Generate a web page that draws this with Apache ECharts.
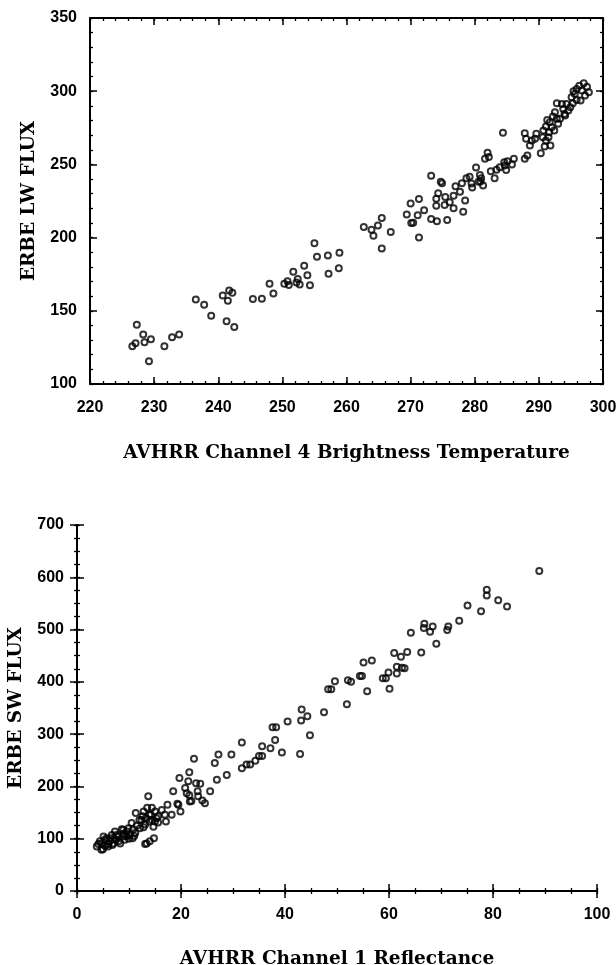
<!DOCTYPE html>
<html>
<head>
<meta charset="utf-8">
<script src="https://cdn.jsdelivr.net/npm/echarts@6/dist/echarts.min.js"></script>
<style>
  html, body { margin: 0; padding: 0; background: #fff; }
  #main { width: 616px; height: 965px; }
</style>
</head>
<body>
<div id="main"></div>
<script>
// top panel: AVHRR ch4 brightness temperature vs ERBE LW flux
var lwTemp = [
  227.3, 226.6, 227.1, 228.3, 228.5, 229.5, 229.2, 231.6, 232.8, 233.9,
  236.5, 237.8, 238.9, 240.7, 241.5, 241.7, 242.2, 241.3, 242.5, 245.4,
  246.8, 248.0, 248.6, 250.3, 250.8, 251.0, 251.7, 252.4, 252.2, 252.7,
  253.4, 253.9, 254.3, 255.0, 255.4, 257.1, 257.2, 258.8, 258.9,
  262.7, 263.9, 264.2, 264.9, 265.5, 265.5, 266.9, 269.4, 270.0, 270.1,
  270.4, 271.1, 271.3, 271.3, 272.1, 273.2, 273.2, 274.1, 274.7, 274.9,
  274.0, 274.3, 274.0, 275.3, 275.4, 275.7, 276.1, 276.7, 276.7, 277.0,
  277.7, 278.0, 278.2, 278.5, 278.7, 279.2, 279.5, 279.6, 280.2, 280.6,
  280.8, 281.0, 281.3, 280.9, 281.6, 282.0, 282.2, 282.5, 283.1, 283.4,
  283.9, 284.4, 284.6, 284.7, 284.9, 285.1,
  297.0, 297.5, 297.8, 297.2, 296.7, 296.3, 295.9, 295.6, 295.4, 296.5,
  295.9, 295.1, 295.3, 294.9, 294.3, 294.6, 293.8, 294.1, 293.6, 294.0,
  293.3, 292.8, 292.5, 293.0, 292.8, 292.2, 291.7, 291.3, 291.1, 292.0,
  292.4, 291.6, 290.7, 290.6, 291.1, 291.5, 291.8, 290.9, 290.3, 289.6,
  289.4, 288.9, 288.6, 288.0, 287.8, 288.2, 287.8, 286.1, 285.8
];
var lwFlux = [
  140.4, 125.8, 127.9, 133.8, 128.5, 130.6, 115.5, 125.8, 132.0, 133.8,
  157.8, 154.1, 146.6, 160.5, 156.8, 163.9, 162.3, 142.9, 139.0, 158.0,
  158.2, 168.5, 161.9, 168.5, 170.1, 167.6, 176.7, 171.7, 169.4, 168.0,
  180.8, 174.2, 167.4, 196.1, 187.0, 187.7, 175.3, 179.0, 189.7,
  207.2, 205.3, 201.2, 208.3, 213.4, 192.6, 203.9, 215.7, 223.3, 209.9,
  210.2, 215.2, 226.3, 200.0, 218.7, 242.3, 212.7, 211.1, 238.1, 237.2,
  221.7, 230.3, 226.6, 222.2, 227.7, 212.0, 224.2, 220.1, 228.6, 235.1,
  231.4, 237.2, 217.6, 225.4, 240.6, 241.6, 237.0, 234.2, 247.8, 238.1,
  242.7, 240.6, 235.6, 238.3, 253.8, 258.0, 255.0, 245.3, 240.6, 246.4,
  248.0, 271.6, 251.5, 249.2, 246.2, 252.2,
  305.4, 303.1, 299.3, 297.0, 300.4, 303.8, 301.5, 298.1, 300.0, 293.6,
  294.0, 295.9, 291.8, 289.0, 291.3, 286.8, 287.9, 283.4, 291.3, 284.5,
  281.1, 291.8, 285.6, 277.7, 281.1, 282.7, 278.8, 280.4, 275.9, 275.4,
  273.1, 272.0, 273.1, 268.6, 266.3, 268.6, 262.9, 262.2, 257.7, 270.9,
  267.5, 266.3, 262.9, 267.5, 271.3, 256.1, 253.8, 253.8, 250.0
];

// bottom panel: AVHRR ch1 reflectance vs ERBE SW flux
var swRefl = [
  3.8, 4.4, 4.7, 5.4, 5.7, 5.1, 6.3, 6.7, 7.3, 7.5,
  7.9, 8.3, 8.6, 8.9, 9.2, 9.6, 9.9, 10.2, 10.7, 10.5,
  11.2, 11.5, 11.3, 12.1, 12.4, 12.8, 13.1, 13.3, 13.5, 13.7,
  13.9, 14.2, 14.4, 14.7, 15.0, 15.3, 15.6, 16.3, 16.9, 17.1,
  17.4, 18.2, 18.5, 19.7, 19.5, 19.9, 20.8, 21.1, 21.6, 21.4,
  21.7, 22.5, 22.9, 23.3, 23.7, 24.6, 25.6, 26.5, 27.2, 28.8,
  29.7, 31.7, 31.7, 32.6,
  13.1, 13.4, 14.0, 14.8,
  4.1, 6.0, 7.0, 7.6, 8.9, 6.5, 5.4, 4.7, 12.0, 12.6,
  13.9, 14.4, 15.6, 15.0, 12.8,
  19.3, 21.6, 22.0, 23.2, 24.1, 26.9,
  5.0, 6.0, 7.2, 8.0, 9.5, 10.0, 11.0, 6.8, 9.0, 10.8,
  33.3, 34.3, 35.0, 35.6, 35.6, 37.2, 37.6, 38.3, 38.1, 39.4, 40.5,
  88.9, 78.8, 78.8, 81.0, 82.7, 77.7, 75.1, 73.5, 71.4, 71.2,
  69.1, 68.4, 67.9, 66.8, 66.7, 66.2, 64.2, 63.5, 63.0, 62.5,
  62.3, 61.5, 61.5, 61.0, 59.9, 60.1, 59.4, 58.8, 56.7, 55.1,
  55.8, 54.8, 54.4, 52.7, 52.1, 51.9, 49.6, 48.9, 48.3, 47.5,
  44.8, 44.3, 43.2, 43.1, 42.9
];
var swFlux = [
  85, 95, 79, 86, 101, 104, 95, 107, 114, 98,
  104, 91, 118, 104, 98, 114, 120, 107, 101, 130,
  111, 125, 149, 120, 136, 152, 127, 139, 159, 181,
  133, 146, 159, 123, 152, 139, 131, 155, 146, 133,
  165, 146, 191, 216, 165, 152, 197, 187, 227, 210,
  171, 253, 206, 181, 205, 168, 191, 245, 261, 222,
  261, 284, 235, 242,
  90, 91, 95, 101,
  90, 85, 91, 107, 117, 101, 98, 91, 136, 143,
  146, 136, 143, 133, 122,
  167, 183, 172, 191, 173, 213,
  80, 90, 100, 95, 105, 100, 105, 88, 110, 118,
  242, 249, 258, 258, 277, 273, 313, 313, 289, 265, 324,
  612, 576, 565, 556, 544, 535, 546, 517, 506, 499,
  473, 506, 496, 511, 503, 456, 494, 457, 426, 427,
  448, 429, 416, 455, 418, 387, 407, 407, 441, 437,
  382, 411, 411, 400, 403, 357, 401, 386, 386, 342,
  298, 334, 347, 326, 262
];

// axis ranges, major step and minor step
var lwX = [220, 300, 10, 2];
var lwY = [100, 350, 50, 10];
var swX = [0, 100, 20, 5];
var swY = [0, 700, 100, 25];

function pairs(xs, ys) {
  var out = [];
  for (var i = 0; i < xs.length; i++) out.push([xs[i], ys[i]]);
  return out;
}

var labelFont = { fontFamily: 'Liberation Sans', fontWeight: 'bold', fontSize: 16, color: '#000' };
var titleFont = { fontFamily: 'DejaVu Serif', fontWeight: 'bold', fontSize: 18.5, color: '#000' };

// major axis: line, long inside ticks, optional labels/name
function major(grid, pos, r, opts) {
  opts = opts || {};
  var a = {
    type: 'value', gridIndex: grid, position: pos,
    min: r[0], max: r[1], interval: r[2],
    axisLine: { show: true, lineStyle: { color: '#000', width: 2 } },
    axisTick: { show: true, inside: true, length: 7, lineStyle: { color: '#000', width: 1.5 } },
    splitLine: { show: false },
    axisLabel: Object.assign({ show: !!opts.labels, margin: opts.margin || 12 }, labelFont)
  };
  if (opts.name) {
    a.name = opts.name;
    a.nameLocation = 'middle';
    a.nameGap = opts.nameGap;
    a.nameRotate = opts.nameRotate || 0;
    a.nameTextStyle = titleFont;
  }
  return a;
}

// minor axis: only short inside ticks
function minor(grid, pos, r) {
  return {
    type: 'value', gridIndex: grid, position: pos,
    min: r[0], max: r[1], interval: r[3],
    axisLine: { show: false },
    axisTick: { show: true, inside: true, length: 3, lineStyle: { color: '#000', width: 1.3 } },
    splitLine: { show: false },
    axisLabel: { show: false }
  };
}

var myChart = echarts.init(document.getElementById('main'), null, { renderer: 'canvas' });

var option = {
  backgroundColor: '#fff',
  animation: false,
  grid: [
    { left: 90, top: 18, width: 513, height: 366, outerBoundsMode: 'none' },
    { left: 77, top: 525, width: 520, height: 366, outerBoundsMode: 'none' }
  ],
  xAxis: [
    major(0, 'bottom', lwX, { labels: true, margin: 16, name: 'AVHRR Channel 4 Brightness Temperature', nameGap: 60 }),
    major(0, 'top', lwX),
    minor(0, 'bottom', lwX),
    minor(0, 'top', lwX),
    major(1, 'bottom', swX, { labels: true, margin: 16, name: 'AVHRR Channel 1 Reflectance', nameGap: 59 }),
    major(1, 'top', swX),
    minor(1, 'bottom', swX),
    minor(1, 'top', swX)
  ],
  yAxis: [
    major(0, 'left', lwY, { labels: true, margin: 13, name: 'ERBE LW FLUX', nameGap: 51, nameRotate: 90 }),
    major(0, 'right', lwY),
    minor(0, 'left', lwY),
    minor(0, 'right', lwY),
    major(1, 'left', swY, { labels: true, margin: 13, name: 'ERBE SW FLUX', nameGap: 51, nameRotate: 90 }),
    major(1, 'right', swY),
    minor(1, 'left', swY),
    minor(1, 'right', swY)
  ],
  series: [
    {
      type: 'scatter',
      xAxisIndex: 0,
      yAxisIndex: 0,
      symbol: 'circle',
      symbolSize: 6,
      data: pairs(lwTemp, lwFlux),
      itemStyle: { color: 'rgba(255,255,255,0)', borderColor: '#000', borderWidth: 2 }
    },
    {
      type: 'scatter',
      xAxisIndex: 4,
      yAxisIndex: 4,
      symbol: 'circle',
      symbolSize: 6,
      data: pairs(swRefl, swFlux),
      itemStyle: { color: 'rgba(255,255,255,0)', borderColor: '#000', borderWidth: 2 }
    }
  ]
};

myChart.setOption(option);
</script>
</body>
</html>
